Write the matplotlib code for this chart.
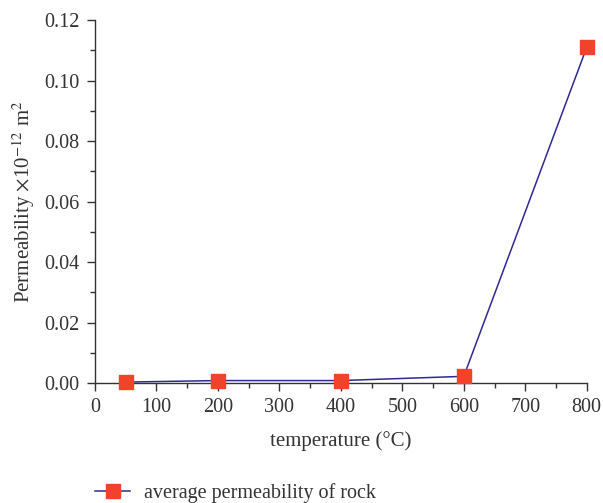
import matplotlib
matplotlib.use("Agg")
import matplotlib.pyplot as plt
from matplotlib.ticker import MultipleLocator

# Dados
temperatura = [50, 200, 400, 600, 800]
permeabilidade = [0.0003, 0.0008, 0.0008, 0.0022, 0.111]

plt.rcParams['font.family'] = ['Liberation Serif', 'DejaVu Serif']
plt.rcParams['mathtext.fontset'] = 'stix'

fig = plt.figure(figsize=(6.03, 5.03), dpi=100)
ax = fig.add_axes([0.1575, 0.2386, 0.8155, 0.7214])

ax.plot(temperatura, permeabilidade, color='#2e2a94', linewidth=1.1,
        marker='s', markersize=9.5, markerfacecolor='#f0432a',
        markeredgecolor='#f0432a', label='average permeability of rock',
        clip_on=False, zorder=3)

ax.set_xlim(0, 800)
ax.set_ylim(0, 0.12)
ax.xaxis.set_major_locator(MultipleLocator(100))
ax.xaxis.set_minor_locator(MultipleLocator(50))
ax.yaxis.set_major_locator(MultipleLocator(0.02))
ax.yaxis.set_minor_locator(MultipleLocator(0.01))
ax.yaxis.set_major_formatter(plt.FormatStrFormatter('%.2f'))

for s in ['top', 'right']:
    ax.spines[s].set_visible(False)
for s in ['left', 'bottom']:
    ax.spines[s].set_color('#333333')
    ax.spines[s].set_linewidth(1.0)

ax.tick_params(which='major', direction='out', length=6, width=1, colors='#333333',
               labelsize=14.5, labelcolor='#333333', pad=5)
ax.tick_params(which='minor', direction='out', length=3.5, width=1, colors='#333333')

ax.set_xlabel('temperature (°C)', fontsize=15, color='#333333', labelpad=10)
ax.set_ylabel(r'Permeability $\times$10$^{-12}$ m$^2$', fontsize=15, color='#333333', labelpad=5)

ax.legend(loc='upper left', bbox_to_anchor=(0.0, -0.275), frameon=False,
          fontsize=14.5, handlelength=1.75, handletextpad=0.7,
          borderpad=0, borderaxespad=0, labelcolor='#333333')

fig.savefig('out.png', dpi=100)
